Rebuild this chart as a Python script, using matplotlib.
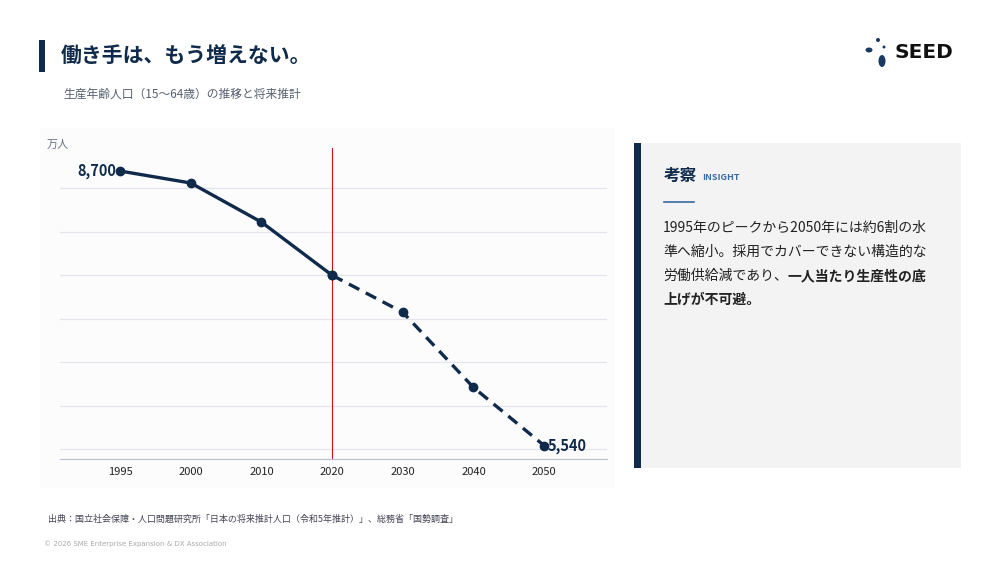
import matplotlib
matplotlib.use("Agg")
import matplotlib.pyplot as plt
from matplotlib.patches import Rectangle, Ellipse

plt.rcParams['font.family'] = ['Noto Sans CJK JP', 'DejaVu Sans']

years = ["1995", "2000", "2010", "2020", "2030", "2040", "2050"]
actual = [8700, 8562, 8112, 7500]
projected = [7500, 7074, 6209, 5540]
gridvals = [5500, 6000, 6500, 7000, 7500, 8000, 8500]

NAVY = "#0f2a4a"
W, H = 1000, 563
fig = plt.figure(figsize=(10, 5.63), dpi=100)
fig.patch.set_facecolor("white")

def px(x, y):
    return x / W, 1 - y / H

# chart panel background
fig.patches.append(Rectangle(px(40, 488), 575 / W, 360 / H, transform=fig.transFigure,
                             facecolor="#fcfcfd", edgecolor="none", zorder=0))

ax = fig.add_axes([0.06, 1 - 459 / H, (607 - 60) / W, (459 - 148) / H])
ax.set_zorder(5)
ax.set_facecolor("none")
xi = list(range(len(years)))
ax.set_xlim(-0.85, 6.89)
ax.set_ylim(5385, 8965)
for g in gridvals:
    ax.axhline(g, color="#e3e5ea", lw=0.9, zorder=1)
ax.axvline(3, color="#d0101a", lw=0.8, zorder=2)
ax.plot(xi[:4], actual, color=NAVY, lw=2.4, marker="o", ms=6, zorder=3)
ax.plot(xi[3:], projected, color=NAVY, lw=2.4, ls=(0, (3.5, 2.2)), marker="o", ms=6, zorder=3)
ax.text(-0.05, actual[0], f"{actual[0]:,}", ha="right", va="center", fontsize=10.5,
        fontweight="bold", color=NAVY)
ax.text(6.05, projected[-1], f"{projected[-1]:,}", ha="left", va="center", fontsize=10.5,
        fontweight="bold", color=NAVY)
ax.set_xticks(xi)
ax.set_xticklabels(years, fontsize=8, color="#222")
ax.tick_params(length=0, pad=6)
ax.set_yticks([])
for s in ["top", "right", "left"]:
    ax.spines[s].set_visible(False)
ax.spines["bottom"].set_color("#b8c0cc")
fig.text(*px(47, 145), "万人", fontsize=8, color="#667085", va="center")

# title
fig.patches.append(Rectangle(px(39, 72), 6 / W, 32 / H, transform=fig.transFigure,
                             facecolor=NAVY, edgecolor="none"))
fig.text(*px(61, 55), "働き手は、もう増えない。", fontsize=15, fontweight="bold",
         color=NAVY, va="center")
fig.text(*px(63, 94), "生産年齢人口（15〜64歳）の推移と将来推計", fontsize=8.5,
         color="#556070", va="center")

# logo
fig.text(*px(894, 52), "SEED", fontsize=14.5, fontweight="bold", color="#111",
         va="center", family="DejaVu Sans")
for (x, y, w, h) in [(869, 50, 7, 5), (878, 40, 4, 4), (884, 47, 3, 3)]:
    fig.patches.append(Ellipse(px(x, y), w / W, h / H, transform=fig.transFigure,
                               facecolor="#1b3a63", edgecolor="none"))
fig.patches.append(Ellipse(px(882, 61), 7 / W, 12 / H, transform=fig.transFigure,
                           facecolor="#1b3a63", edgecolor="none"))

# insight panel
fig.patches.append(Rectangle(px(634, 468), 327 / W, 325 / H, transform=fig.transFigure,
                             facecolor="#f3f3f4", edgecolor="none"))
fig.patches.append(Rectangle(px(634, 468), 7 / W, 325 / H, transform=fig.transFigure,
                             facecolor=NAVY, edgecolor="none"))
fig.text(*px(664, 176), "考察", fontsize=12, fontweight="bold", color=NAVY, va="center")
fig.text(*px(702, 178), "INSIGHT", fontsize=6.5, fontweight="bold", color="#3a6aa0", va="center")
fig.lines.append(plt.Line2D([664 / W, 694 / W], [1 - 202 / H] * 2, transform=fig.transFigure,
                            color="#3a6aa0", lw=1.2))
fs = 10
fig.text(*px(663, 228), "1995年のピークから2050年には約6割の水", fontsize=fs, color="#222", va="center")
fig.text(*px(663, 252), "準へ縮小。採用でカバーできない構造的な", fontsize=fs, color="#222", va="center")
t1 = fig.text(*px(663, 276), "労働供給減であり、", fontsize=fs, color="#222", va="center")
fig.canvas.draw()
bb = t1.get_window_extent()
fig.text(bb.x1 / W, 1 - 276 / H, "一人当たり生産性の底", fontsize=fs, fontweight="bold",
         color="#222", va="center")
fig.text(*px(663, 300), "上げが不可避。", fontsize=fs, fontweight="bold", color="#222", va="center")

# footer
fig.text(*px(48, 519), "出典：国立社会保障・人口問題研究所「日本の将来推計人口（令和5年推計）」、総務省「国勢調査」",
         fontsize=6.5, color="#445", va="center")
fig.text(*px(44, 544), "© 2026 SME Enterprise Expansion & DX Association", fontsize=5,
         color="#aaa", va="center", family="DejaVu Sans")

fig.savefig("out.png", dpi=100)
